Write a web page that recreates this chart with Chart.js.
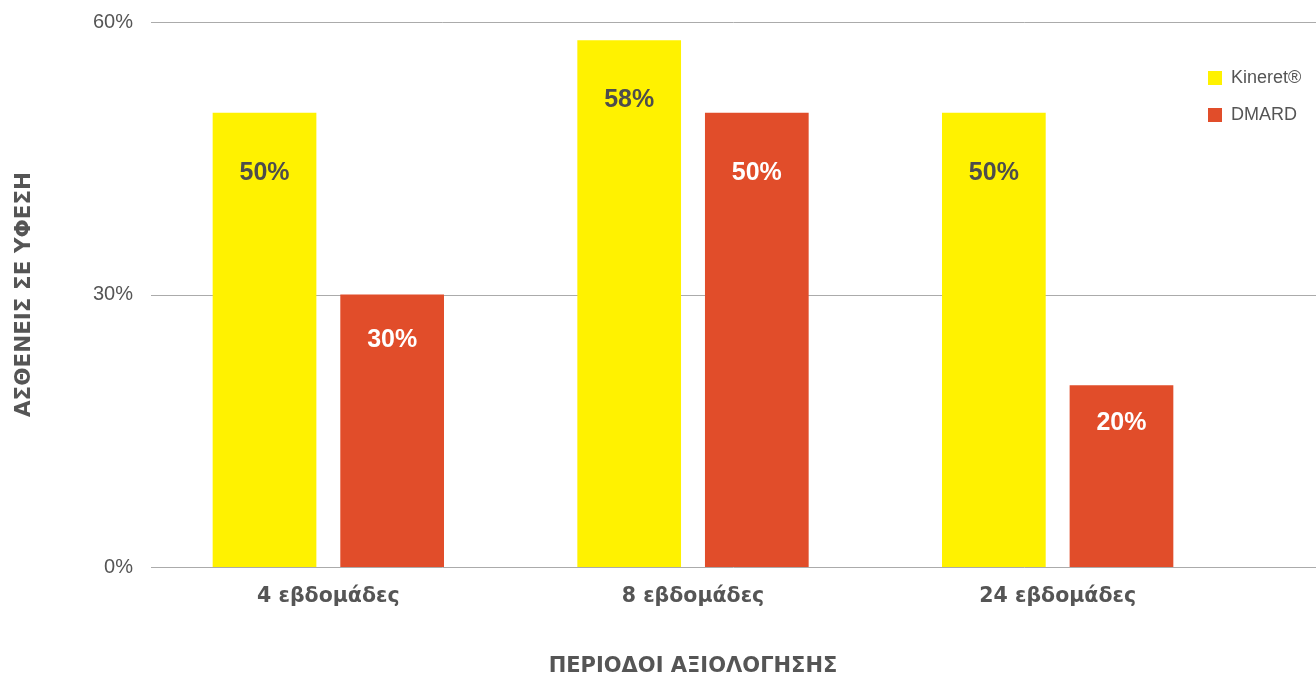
<!DOCTYPE html>
<html><head><meta charset="utf-8">
<script src="https://cdn.jsdelivr.net/npm/chart.js@4.4.1/dist/chart.umd.min.js"></script>
<style>html,body{margin:0;padding:0;background:#fff}</style>
</head><body>
<canvas id="c" width="1316" height="675"></canvas>
<script>
const categories = ['4 εβδομάδες', '8 εβδομάδες', '24 εβδομάδες'];
const kineretValues = [50, 58, 50];
const dmardValues = [30, 50, 20];
const seriesNames = ['Kineret®', 'DMARD'];
const yMin = 0, yMax = 60, yStep = 30;
const xTitle = 'ΠΕΡΙΟΔΟΙ ΑΞΙΟΛΟΓΗΣΗΣ';
const yTitle = 'ΑΣΘΕΝΕΙΣ ΣΕ ΥΦΕΣΗ';

const FONT = '"Liberation Sans", Arial, sans-serif';
const GREEK = '"DejaVu Sans", sans-serif';
const YELLOW = '#FFF200';
const RED = '#E14D2A';
const TEXT = '#555555';

const gridPlugin = {
  id: 'fullGrid',
  beforeDatasetsDraw(chart) {
    const {ctx, chartArea} = chart;
    const ys = chart.scales.y;
    ctx.save();
    ctx.strokeStyle = '#ababab';
    ctx.lineWidth = 1;
    ys.ticks.forEach(t => {
      const y = Math.round(ys.getPixelForValue(t.value)) + 0.5;
      ctx.beginPath();
      ctx.moveTo(chartArea.left + 5, y);
      ctx.lineTo(chart.width, y);
      ctx.stroke();
    });
    ctx.restore();
  }
};

const valueLabelPlugin = {
  id: 'valueLabels',
  afterDatasetsDraw(chart) {
    const {ctx} = chart;
    ctx.save();
    ctx.font = 'bold 25px ' + FONT;
    ctx.textAlign = 'center';
    ctx.textBaseline = 'middle';
    chart.data.datasets.forEach((ds, di) => {
      const meta = chart.getDatasetMeta(di);
      ctx.fillStyle = di === 0 ? '#4d4d4d' : '#ffffff';
      meta.data.forEach((bar, i) => {
        const h = bar.base - bar.y;
        const off = Math.min(60, 22 + 0.085 * h);
        ctx.fillText(ds.data[i] + '%', bar.x, bar.y + off);
      });
    });
    ctx.restore();
  }
};

const legendPlacePlugin = {
  id: 'legendPlace',
  afterLayout(chart) {
    const lg = chart.legend;
    if (!lg) return;
    const h = lg.height;
    lg.left = chart.chartArea.right - 51;
    lg.right = chart.width;
    lg.width = lg.right - lg.left;
    lg.top = chart.chartArea.top + 28;
    lg.bottom = lg.top + h;
  }
};

new Chart(document.getElementById('c'), {
  type: 'bar',
  data: {
    labels: categories,
    datasets: [
      { label: seriesNames[0], data: kineretValues, backgroundColor: YELLOW, borderWidth: 0,
        categoryPercentage: 0.7, barPercentage: 0.8125 },
      { label: seriesNames[1], data: dmardValues, backgroundColor: RED, borderWidth: 0,
        categoryPercentage: 0.7, barPercentage: 0.8125 }
    ]
  },
  options: {
    responsive: false,
    animation: false,
    layout: { padding: { top: 22, left: 0, right: 0, bottom: 0 } },
    plugins: {
      tooltip: { enabled: false },
      legend: {
        position: 'right',
        align: 'start',
        maxWidth: 76,
        labels: { boxWidth: 14, boxHeight: 14, padding: 19, color: TEXT, font: { family: FONT, size: 18 } }
      }
    },
    scales: {
      x: {
        afterFit(s) { s.height = 108; },
        grid: { display: false, drawTicks: false },
        border: { display: false },
        ticks: { color: TEXT, padding: 17, font: { family: GREEK, size: 20.5, weight: 'bold' } },
        title: { display: true, text: xTitle, color: TEXT, padding: { top: 0, bottom: 0 },
                 font: { family: GREEK, size: 21, weight: 'bold', lineHeight: 0.8 } }
      },
      y: {
        min: yMin, max: yMax,
        afterFit(s) { s.width = 146; s.paddingTop = 0; s.paddingBottom = 0; },
        grid: { display: false, drawTicks: false },
        border: { display: false },
        ticks: { stepSize: yStep, color: TEXT, padding: 13, font: { family: FONT, size: 20 },
                 callback: v => v + '%' },
        title: { display: true, text: yTitle, color: TEXT, padding: { top: 14, bottom: 0 },
                 font: { family: GREEK, size: 21.5, weight: 'bold', lineHeight: 1 } }
      }
    }
  },
  plugins: [gridPlugin, valueLabelPlugin, legendPlacePlugin]
});
</script>
</body></html>
